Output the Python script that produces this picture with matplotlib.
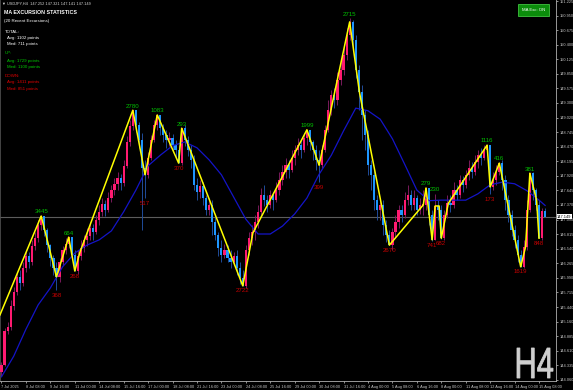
import matplotlib
matplotlib.use("Agg")
import matplotlib.pyplot as plt
from matplotlib.patches import Rectangle, PathPatch
from matplotlib.textpath import TextPath
from matplotlib.font_manager import FontProperties
from matplotlib.transforms import Affine2D, IdentityTransform

# USDJPY H4, 7 Jul - 15 Aug 2025
first_open = 144.21
closes = [144.34, 144.99, 145.06, 145.46, 145.72, 146.01, 145.89, 146.18, 146.40, 146.29,
          146.59, 146.74, 146.99, 147.16, 146.90, 146.61, 146.37, 146.18, 146.01, 146.29,
          146.52, 146.63, 146.76, 146.42, 146.12, 146.40, 146.55, 146.71, 146.78, 146.93,
          146.86, 147.08, 147.23, 147.38, 147.27, 147.50, 147.65, 147.76, 147.88, 147.78,
          148.10, 148.56, 148.86, 149.16, 148.88, 148.60, 148.07, 147.94, 148.26, 148.60,
          148.88, 149.07, 148.82, 148.69, 148.60, 148.63, 148.50, 148.41, 148.16, 148.82,
          148.60, 148.41, 148.22, 147.75, 147.61, 147.72, 147.50, 147.27, 147.37, 147.05,
          146.80, 146.55, 146.42, 146.52, 146.37, 146.29, 146.40, 146.18, 145.99, 145.84,
          146.52, 146.74, 146.86, 147.05, 147.23, 147.56, 147.46, 147.37, 147.56, 147.46,
          147.65, 147.84, 147.99, 148.12, 148.03, 148.26, 148.41, 148.50, 148.41, 148.63,
          148.79, 148.56, 148.41, 148.22, 148.12, 148.41, 148.79, 149.16, 149.45, 149.35,
          149.73, 149.92, 150.20, 150.58, 150.83, 150.49, 149.92, 149.50, 149.07, 148.69,
          148.12, 147.94, 147.46, 147.27, 147.37, 146.99, 146.80, 146.61, 146.86, 147.05,
          147.27, 147.18, 147.46, 147.56, 147.37, 147.50, 147.27, 147.37, 147.37, 147.69,
          147.18, 146.71, 147.35, 147.27, 146.74, 147.18, 147.41, 147.37, 147.65, 147.56,
          147.84, 147.75, 147.94, 148.07, 147.99, 148.18, 148.31, 148.26, 148.41, 148.50,
          147.71, 147.84, 147.99, 148.16, 147.84, 147.46, 147.18, 146.90, 146.71, 146.42,
          146.20, 146.57, 147.27, 147.97, 147.65, 147.37, 146.74, 147.25, 147.149]
highs = [144.40, 145.04, 145.16, 145.57, 145.82, 146.10, 146.14, 146.29, 146.52, 146.48,
         146.71, 146.86, 147.08, 147.16, 147.12, 146.93, 146.63, 146.42, 146.29, 146.37,
         146.59, 146.74, 146.76, 146.74, 146.52, 146.52, 146.71, 146.80, 146.93, 147.05,
         147.01, 147.18, 147.37, 147.50, 147.46, 147.61, 147.74, 147.88, 147.99, 147.95,
         148.22, 148.67, 148.97, 149.16, 149.12, 148.94, 148.73, 148.22, 148.37, 148.69,
         148.97, 149.07, 149.03, 148.90, 148.78, 148.75, 148.71, 148.60, 148.50, 148.82,
         148.88, 148.67, 148.50, 148.31, 147.88, 147.84, 147.80, 147.56, 147.50, 147.46,
         147.18, 146.86, 146.71, 146.63, 146.61, 146.52, 146.48, 146.52, 146.29, 146.14,
         146.61, 146.86, 146.99, 147.18, 147.37, 147.69, 147.75, 147.56, 147.65, 147.61,
         147.80, 147.99, 148.12, 148.26, 148.22, 148.41, 148.50, 148.63, 148.60, 148.73,
         148.79, 148.79, 148.60, 148.50, 148.41, 148.50, 148.88, 149.35, 149.54, 149.58,
         149.88, 150.11, 150.39, 150.71, 150.90, 150.87, 150.58, 150.02, 149.64, 149.16,
         148.79, 148.22, 148.03, 147.56, 147.50, 147.46, 147.08, 146.90, 146.93, 147.18,
         147.37, 147.37, 147.61, 147.75, 147.65, 147.65, 147.56, 147.50, 147.65, 147.69,
         147.65, 147.27, 147.58, 147.46, 147.37, 147.27, 147.56, 147.56, 147.80, 147.75,
         147.93, 147.91, 148.03, 148.22, 148.18, 148.31, 148.41, 148.44, 148.50, 148.50,
         148.50, 147.99, 148.12, 148.16, 148.22, 147.93, 147.56, 147.27, 146.99, 146.80,
         146.52, 146.71, 147.46, 147.97, 147.99, 147.69, 147.46, 147.31, 147.321]
lows = [144.14, 144.32, 144.93, 145.00, 145.38, 145.67, 145.76, 145.84, 146.10, 146.18,
        146.23, 146.52, 146.67, 146.90, 146.78, 146.48, 146.21, 146.04, 145.76, 145.91,
        146.23, 146.44, 146.55, 146.33, 146.12, 146.06, 146.33, 146.48, 146.59, 146.71,
        146.71, 146.82, 146.99, 147.16, 147.16, 147.23, 147.42, 147.56, 147.65, 147.65,
        147.72, 148.07, 148.48, 148.78, 148.75, 148.44, 146.90, 147.50, 147.88, 148.22,
        148.56, 148.78, 148.69, 148.56, 148.44, 148.48, 148.37, 148.26, 148.16, 148.12,
        148.48, 148.29, 148.07, 147.65, 147.46, 147.50, 147.37, 147.18, 147.18, 146.80,
        146.71, 146.40, 146.29, 146.37, 146.29, 146.18, 146.23, 146.04, 145.88, 145.84,
        145.80, 146.42, 146.61, 146.71, 146.93, 147.18, 147.35, 147.24, 147.31, 147.27,
        147.42, 147.56, 147.75, 147.88, 147.88, 147.99, 148.12, 148.31, 148.26, 148.37,
        148.50, 148.41, 148.22, 148.03, 147.80, 148.07, 148.37, 148.75, 149.07, 149.20,
        149.26, 149.64, 149.83, 150.11, 150.49, 150.34, 149.77, 149.16, 148.60, 148.41,
        147.94, 147.65, 147.27, 147.08, 147.08, 146.80, 146.67, 146.61, 146.52, 146.74,
        146.93, 147.05, 147.12, 147.37, 147.27, 147.27, 147.18, 147.20, 147.18, 147.27,
        146.99, 146.69, 146.71, 147.08, 146.73, 146.71, 147.12, 147.24, 147.31, 147.46,
        147.50, 147.61, 147.69, 147.84, 147.88, 147.94, 148.07, 148.12, 148.22, 148.31,
        147.57, 147.65, 147.75, 147.94, 147.65, 147.27, 147.05, 146.78, 146.55, 146.29,
        146.20, 146.18, 146.52, 147.24, 147.46, 147.27, 146.74, 146.71, 147.141]

# moving average read every 4 bars
ma_bars = list(range(0, 177, 4)) + [178]
ma_vals = [144.12, 144.51, 145.02, 145.48, 145.80, 146.20, 146.46, 146.61, 146.71, 146.88,
           147.24, 147.65, 148.11, 148.31, 148.49, 148.56, 148.45, 148.22, 147.94, 147.52,
           147.10, 146.82, 146.82, 146.97, 147.20, 147.50, 147.95, 148.31, 148.77, 149.20,
           149.15, 148.99, 148.62, 148.14, 147.65, 147.45, 147.46, 147.46, 147.46, 147.58,
           147.75, 147.80, 147.77, 147.64, 147.46, 147.36]

# excursion extremes (peak / trough alternate) and MA-cross bends of the zigzag
swing_bars = [13, 18, 22, 24, 43, 47, 51, 58, 59, 79, 100, 104, 114, 127, 139, 141,
              142, 144, 159, 160, 163, 170, 173, 176]
swing_text = ["3445", "368", "664", "268", "2780", "517", "1083", "370", "293", "2722",
              "1999", "399", "2715", "2670", "279", "741", "230", "682", "1116", "173",
              "416", "1619", "381", "848"]
bend_bars = [-0.5, 25.7, 82.3, 117.2, 138.1, 143.3, 146.3, 171.6, 175.2]
bend_prices = [145.29, 146.48, 146.84, 149.50, 147.37, 147.35, 147.40, 146.58, 147.46]

time_labels = ["7 Jul 2025", "8 Jul 08:00", "9 Jul 16:00", "11 Jul 00:00", "14 Jul 08:00",
               "15 Jul 16:00", "17 Jul 00:00", "18 Jul 08:00", "21 Jul 16:00", "23 Jul 00:00",
               "24 Jul 08:00", "25 Jul 16:00", "29 Jul 00:00", "30 Jul 08:00", "31 Jul 16:00",
               "4 Aug 00:00", "5 Aug 08:00", "6 Aug 16:00", "8 Aug 00:00", "11 Aug 08:00",
               "12 Aug 16:00", "14 Aug 00:00", "15 Aug 08:00"]
price_ticks = ["144.060", "144.335", "144.610", "144.885", "145.160", "145.440", "145.715",
               "145.990", "146.265", "146.540", "146.815", "147.090", "147.370", "147.645",
               "147.920", "148.195", "148.470", "148.745", "149.020", "149.300", "149.575",
               "149.850", "150.125", "150.400", "150.675", "150.950", "151.225"]
bid = 147.149

stats_lines = [("MA EXCURSION STATISTICS", "white", True),
               ("(20 Recent Excursions)", "white", False),
               ("TOTAL:", "white", False), ("Avg: 1102 points", "white", False),
               ("Med: 711 points", "white", False),
               ("UP:", "#00c800", False), ("Avg: 1729 points", "#00c800", False),
               ("Med: 1100 points", "#00c800", False),
               ("DOWN:", "#e00000", False), ("Avg: 1411 points", "#e00000", False),
               ("Med: 851 points", "#e00000", False)]

W, H = 573, 390
plt.rcParams['font.family'] = ['Liberation Sans', 'DejaVu Sans']
fig = plt.figure(figsize=(W / 100, H / 100), dpi=100, facecolor='black')
ax = fig.add_axes([0, 9 / H, 556 / W, 381 / H], facecolor='black')

BULL, BEAR = '#ff1a70', '#1e96ff'
BULL_W, BEAR_W = '#7a1a5c', '#1f4c9a'

opens = [first_open] + closes[:-1]
n = len(closes)
for i in range(n):
    up = closes[i] >= opens[i]
    ax.vlines(i, lows[i], highs[i], color=BULL_W if up else BEAR_W, lw=0.7, zorder=2)
    lo, hi = min(opens[i], closes[i]), max(opens[i], closes[i])
    ax.bar(i, max(hi - lo, 0.012), bottom=lo, width=0.72,
           color=BULL if up else BEAR, lw=0, zorder=3)

ax.axhline(bid, color='#5c5c5c', lw=0.8, zorder=1)
ax.plot(ma_bars, ma_vals, color='#1414c8', lw=0.9, zorder=4)

pts = [(b, closes[b]) for b in swing_bars] + list(zip(bend_bars, bend_prices))
pts.sort()
ax.plot([p[0] for p in pts], [p[1] for p in pts], color='#ffff00', lw=1.1, zorder=5)

for k, (b, t) in enumerate(zip(swing_bars, swing_text)):
    if k % 2 == 0:
        ax.annotate(t, (b, highs[b]), xytext=(0, 3), textcoords='offset points',
                    ha='center', va='center', fontsize=4.4, color='#00c000', zorder=6)
    else:
        ax.annotate(t, (b, lows[b]), xytext=(0, -3.6), textcoords='offset points',
                    ha='center', va='center', fontsize=4.4, color='#c80000', zorder=6)

ax.set_xlim(-0.49, 181.56)
ax.set_ylim(144.041, 151.244)

ax.set_xticks(list(range(0, 8 * len(time_labels), 8)))
ax.set_xticklabels(time_labels, ha='left')
ax.yaxis.tick_right()
ax.set_yticks([float(v) for v in price_ticks])
ax.set_yticklabels(price_ticks)
ax.tick_params(axis='both', colors='#c8c8c8', labelsize=2.8, length=1.6, width=0.5, pad=1)
ax.spines['top'].set_visible(False)
for s in ['left', 'right', 'bottom']:
    ax.spines[s].set_color('#b0b0b0')
    ax.spines[s].set_linewidth(0.6)
ax.spines['left'].set_color('#505050')

ax.text(1.002, bid, "147.149", transform=ax.get_yaxis_transform(), ha='left', va='center',
        fontsize=2.8, color='black', zorder=10,
        bbox=dict(boxstyle='square,pad=0.15', fc='white', ec='white', lw=0))


def fx(x):
    return x / W


def fy(y):
    return 1 - y / H


fig.text(fx(2), fy(3.5), "\u25bc USDJPY,H4  147.252 147.321 147.141 147.149", fontsize=2.8,
         color='#d8d8d8', va='center', ha='left')

ys = [12, 20.7, 31.7, 37.5, 44, 53.3, 60.7, 67, 76, 81.7, 89]
for (txt, col, bold), y in zip(stats_lines, ys):
    indent = 7 if txt.startswith(("Avg", "Med")) else 4.5
    fig.text(fx(indent), fy(y), txt, color=col, va='center', ha='left',
             fontsize=3.8 if bold else 3.2, fontweight='bold' if bold else 'normal')

fig.patches.append(Rectangle((fx(518), fy(15.5)), 31 / W, 11.5 / H, transform=fig.transFigure,
                             fc='#0b8c0b', ec='#40c040', lw=0.6))
fig.text(fx(533.5), fy(9.8), "MA Exc: ON", color='white', fontsize=3.1, ha='center', va='center')

# big timeframe watermark, fitted to its box in pixels
tp = TextPath((0, 0), "H4", size=1, prop=FontProperties(family='Liberation Sans'))
ext = tp.get_extents()
x0, x1, ytop, ybot = 517, 553, 348, 378
tr = Affine2D().translate(-ext.x0, -ext.y0).scale((x1 - x0) / ext.width, (ybot - ytop) / ext.height) \
    .translate(x0, H - ybot)
fig.patches.append(PathPatch(tr.transform_path(tp), transform=IdentityTransform(),
                             fc='#cfcfcf', ec='#cfcfcf', lw=0.6))

fig.savefig("out.png", dpi=100, facecolor='black')
